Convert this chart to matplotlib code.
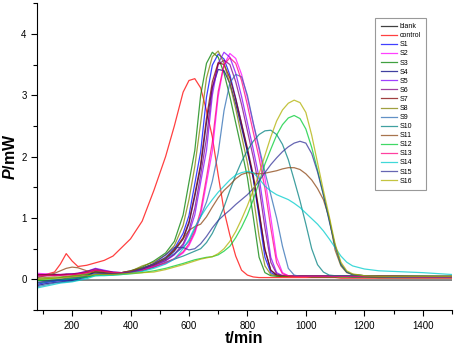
import matplotlib
matplotlib.use("Agg")
import matplotlib.pyplot as plt
from matplotlib.ticker import MultipleLocator

plt.rcParams['font.family'] = ['Liberation Sans', 'DejaVu Sans']
plt.rcParams['mathtext.fontset'] = 'custom'
plt.rcParams['mathtext.it'] = 'Liberation Sans:italic:bold'

# time grid (min)
t_min = [80, 110, 140, 160, 180, 200, 220, 250, 280, 310, 340, 370, 400,
         440, 480, 520, 550, 580, 600, 620, 640, 660, 680, 700, 720, 740,
         760, 780, 800, 820, 840, 860, 880, 900, 920, 940, 960,
         980, 1000, 1020, 1040, 1060, 1080, 1100, 1120, 1140, 1160, 1200,
         1250, 1300, 1400, 1500]

# heat flow P (mW) of every sample on that grid
blank = [-0.02, -0.02, -0.02, -0.01, -0.01, -0.01, -0.01, -0.01, -0.01, -0.01, -0.01, -0.01, -0.01,
         -0.01, -0.01, -0.01, -0.01, -0.01, -0.01, -0.01, -0.01, -0.01, -0.01, -0.01, -0.01, -0.01,
         -0.01, -0.01, -0.01, -0.01, -0.01, -0.01, -0.01, -0.01, -0.01, -0.01, -0.01,
         -0.01, -0.01, -0.01, -0.01, -0.01, -0.01, -0.01, -0.01, -0.01, -0.01, -0.01,
         -0.01, -0.01, -0.01, -0.01]
control = [0.07, 0.08, 0.12, 0.25, 0.42, 0.30, 0.21, 0.23, 0.27, 0.31, 0.38, 0.52, 0.66,
           0.95, 1.45, 2.00, 2.50, 3.05, 3.24, 3.27, 3.12, 2.75, 2.32, 1.70, 1.12, 0.72,
           0.38, 0.15, 0.07, 0.04, 0.03, 0.03, 0.03, 0.03, 0.03, 0.03, 0.03,
           0.03, 0.03, 0.03, 0.03, 0.03, 0.03, 0.03, 0.02, 0.02, 0.02, 0.02,
           0.02, 0.02, 0.02, 0.02]
s1 = [-0.08, -0.05, -0.03, -0.02, -0.01, 0.00, 0.02, 0.06, 0.12, 0.10, 0.09, 0.10, 0.12,
      0.18, 0.25, 0.36, 0.50, 0.75, 1.04, 1.56, 2.08, 2.97, 3.49, 3.67, 3.59, 3.33,
      2.95, 2.53, 2.10, 1.65, 1.01, 0.36, 0.11, 0.06, 0.05, 0.05, 0.05,
      0.05, 0.05, 0.05, 0.05, 0.05, 0.05, 0.05, 0.05, 0.05, 0.04, 0.04,
      0.04, 0.04, 0.04, 0.04]
s2 = [0.10, 0.09, 0.08, 0.08, 0.08, 0.08, 0.09, 0.11, 0.15, 0.13, 0.11, 0.11, 0.12,
      0.15, 0.20, 0.26, 0.33, 0.43, 0.55, 0.75, 1.05, 1.57, 2.09, 2.98, 3.50, 3.68,
      3.60, 3.34, 2.96, 2.54, 2.11, 1.65, 1.01, 0.36, 0.11, 0.06, 0.05,
      0.05, 0.05, 0.05, 0.05, 0.05, 0.05, 0.05, 0.05, 0.05, 0.05, 0.04,
      0.04, 0.04, 0.04, 0.04]
s3 = [0.00, 0.01, 0.02, 0.03, 0.04, 0.05, 0.06, 0.08, 0.12, 0.11, 0.10, 0.11, 0.14,
      0.20, 0.30, 0.43, 0.62, 1.05, 1.58, 2.10, 3.00, 3.52, 3.70, 3.62, 3.36, 2.98,
      2.55, 2.12, 1.66, 1.02, 0.36, 0.11, 0.06, 0.05, 0.05, 0.05, 0.05,
      0.05, 0.05, 0.04, 0.04, 0.04, 0.04, 0.04, 0.04, 0.04, 0.04, 0.04,
      0.03, 0.03, 0.03, 0.03]
s4 = [-0.10, -0.07, -0.05, -0.04, -0.03, -0.02, 0.00, 0.05, 0.13, 0.11, 0.09, 0.10, 0.12,
      0.17, 0.24, 0.33, 0.46, 0.66, 0.91, 1.35, 1.83, 2.55, 3.12, 3.42, 3.40, 3.19,
      2.86, 2.47, 2.08, 1.65, 1.08, 0.48, 0.15, 0.07, 0.05, 0.05, 0.05,
      0.05, 0.05, 0.05, 0.05, 0.05, 0.05, 0.05, 0.05, 0.05, 0.05, 0.05,
      0.05, 0.05, 0.04, 0.04]
s5 = [0.05, 0.06, 0.07, 0.07, 0.08, 0.09, 0.10, 0.13, 0.18, 0.15, 0.12, 0.11, 0.12,
      0.16, 0.22, 0.30, 0.40, 0.55, 0.75, 1.05, 1.58, 2.10, 3.00, 3.52, 3.70, 3.62,
      3.36, 2.98, 2.55, 2.12, 1.66, 1.02, 0.36, 0.11, 0.06, 0.05, 0.05,
      0.05, 0.05, 0.05, 0.05, 0.05, 0.05, 0.05, 0.05, 0.05, 0.05, 0.05,
      0.04, 0.04, 0.04, 0.04]
s6 = [0.08, 0.08, 0.08, 0.08, 0.09, 0.09, 0.10, 0.13, 0.17, 0.14, 0.12, 0.11, 0.12,
      0.17, 0.23, 0.31, 0.41, 0.58, 0.80, 1.16, 1.70, 2.30, 3.12, 3.50, 3.57, 3.50,
      3.22, 2.85, 2.42, 1.99, 1.50, 0.84, 0.28, 0.09, 0.06, 0.05, 0.05,
      0.06, 0.06, 0.06, 0.06, 0.06, 0.06, 0.06, 0.06, 0.06, 0.06, 0.05,
      0.05, 0.05, 0.05, 0.05]
s7 = [0.07, 0.07, 0.07, 0.07, 0.08, 0.08, 0.09, 0.11, 0.15, 0.13, 0.11, 0.11, 0.12,
      0.18, 0.25, 0.34, 0.48, 0.68, 0.94, 1.39, 1.88, 2.63, 3.22, 3.53, 3.50, 3.28,
      2.94, 2.54, 2.14, 1.70, 1.11, 0.49, 0.15, 0.07, 0.05, 0.05, 0.05,
      0.05, 0.05, 0.05, 0.05, 0.05, 0.05, 0.05, 0.05, 0.05, 0.05, 0.05,
      0.05, 0.05, 0.05, 0.05]
s8 = [0.02, 0.03, 0.04, 0.04, 0.05, 0.06, 0.07, 0.09, 0.13, 0.12, 0.11, 0.11, 0.13,
      0.22, 0.28, 0.40, 0.55, 0.88, 1.30, 1.84, 2.55, 3.28, 3.63, 3.72, 3.52, 3.18,
      2.78, 2.34, 1.90, 1.36, 0.70, 0.22, 0.08, 0.06, 0.05, 0.05, 0.05,
      0.05, 0.05, 0.05, 0.05, 0.05, 0.05, 0.05, 0.04, 0.04, 0.04, 0.04,
      0.04, 0.04, 0.04, 0.04]
s9 = [-0.12, -0.09, -0.06, -0.05, -0.04, -0.03, -0.01, 0.03, 0.08, 0.08, 0.08, 0.09, 0.11,
      0.18, 0.25, 0.34, 0.42, 0.52, 0.62, 0.82, 1.02, 1.26, 1.60, 2.06, 2.75, 3.20,
      3.34, 3.30, 3.00, 2.55, 2.15, 1.75, 1.38, 1.00, 0.54, 0.18, 0.07,
      0.05, 0.05, 0.05, 0.05, 0.05, 0.05, 0.05, 0.05, 0.05, 0.05, 0.05,
      0.05, 0.04, 0.04, 0.04]
s10 = [-0.06, -0.04, -0.02, -0.01, 0.00, 0.01, 0.02, 0.04, 0.08, 0.08, 0.08, 0.09, 0.11,
       0.14, 0.20, 0.28, 0.33, 0.38, 0.42, 0.46, 0.50, 0.60, 0.75, 0.95, 1.18, 1.45,
       1.70, 1.92, 2.10, 2.25, 2.36, 2.42, 2.43, 2.36, 2.20, 1.95, 1.62,
       1.28, 0.90, 0.50, 0.24, 0.12, 0.07, 0.06, 0.06, 0.06, 0.06, 0.05,
       0.05, 0.05, 0.05, 0.04]
s11 = [0.03, 0.06, 0.10, 0.14, 0.18, 0.20, 0.19, 0.14, 0.11, 0.10, 0.10, 0.11, 0.14,
       0.18, 0.25, 0.35, 0.48, 0.66, 0.80, 0.86, 0.90, 1.02, 1.18, 1.33, 1.45, 1.54,
       1.64, 1.71, 1.74, 1.73, 1.72, 1.73, 1.75, 1.77, 1.80, 1.82, 1.82,
       1.79, 1.72, 1.62, 1.48, 1.30, 1.00, 0.48, 0.22, 0.11, 0.08, 0.06,
       0.06, 0.06, 0.05, 0.05]
s12 = [-0.02, -0.01, 0.00, 0.00, 0.01, 0.02, 0.03, 0.04, 0.06, 0.07, 0.07, 0.08, 0.09,
       0.11, 0.14, 0.18, 0.22, 0.26, 0.29, 0.32, 0.34, 0.36, 0.37, 0.40, 0.46, 0.54,
       0.68, 0.85, 1.05, 1.30, 1.58, 1.88, 2.12, 2.35, 2.52, 2.63, 2.67,
       2.62, 2.45, 2.15, 1.78, 1.38, 0.97, 0.55, 0.24, 0.12, 0.08, 0.06,
       0.05, 0.05, 0.05, 0.05]
s13 = [0.06, 0.06, 0.06, 0.07, 0.07, 0.08, 0.09, 0.11, 0.15, 0.13, 0.11, 0.11, 0.12,
       0.15, 0.21, 0.27, 0.34, 0.45, 0.58, 0.78, 1.12, 1.66, 2.24, 3.06, 3.50, 3.61,
       3.52, 3.24, 2.84, 2.40, 1.98, 1.48, 0.84, 0.27, 0.09, 0.06, 0.05,
       0.05, 0.05, 0.05, 0.05, 0.05, 0.05, 0.05, 0.05, 0.05, 0.05, 0.05,
       0.05, 0.05, 0.04, 0.04]
s14 = [-0.14, -0.11, -0.08, -0.06, -0.05, -0.04, -0.02, 0.01, 0.06, 0.06, 0.07, 0.08, 0.10,
       0.13, 0.18, 0.25, 0.33, 0.50, 0.65, 0.85, 1.02, 1.17, 1.30, 1.42, 1.52, 1.62,
       1.70, 1.74, 1.76, 1.74, 1.64, 1.52, 1.44, 1.38, 1.34, 1.30, 1.24,
       1.17, 1.08, 0.99, 0.90, 0.79, 0.66, 0.52, 0.38, 0.28, 0.22, 0.17,
       0.14, 0.13, 0.11, 0.08]
s15 = [-0.05, -0.03, -0.01, 0.00, 0.02, 0.03, 0.04, 0.06, 0.10, 0.09, 0.09, 0.10, 0.12,
       0.17, 0.26, 0.40, 0.52, 0.52, 0.48, 0.50, 0.58, 0.70, 0.84, 0.96, 1.05, 1.13,
       1.22, 1.30, 1.38, 1.48, 1.60, 1.74, 1.87, 1.98, 2.08, 2.16, 2.22,
       2.25, 2.22, 2.05, 1.75, 1.38, 0.95, 0.55, 0.25, 0.12, 0.08, 0.06,
       0.05, 0.05, 0.05, 0.05]
s16 = [0.00, 0.01, 0.02, 0.02, 0.03, 0.04, 0.05, 0.06, 0.08, 0.08, 0.08, 0.09, 0.10,
       0.11, 0.12, 0.16, 0.20, 0.24, 0.27, 0.30, 0.33, 0.35, 0.37, 0.42, 0.50, 0.62,
       0.78, 0.98, 1.20, 1.45, 1.72, 2.02, 2.32, 2.58, 2.76, 2.87, 2.92,
       2.88, 2.72, 2.35, 1.90, 1.45, 1.03, 0.58, 0.28, 0.14, 0.09, 0.06,
       0.05, 0.05, 0.05, 0.05]

labels = ["blank", "control", "S1", "S2", "S3", "S4", "S5", "S6", "S7", "S8",
          "S9", "S10", "S11", "S12", "S13", "S14", "S15", "S16"]
colors = ["#000000", "#FF0000", "#0000FF", "#FF00FF", "#008000", "#000080",
          "#8000FF", "#800080", "#800000", "#808000", "#2E6DB4", "#008080",
          "#8B4513", "#00CC33", "#FF0080", "#00CCCC", "#333399", "#B0B000"]
series = [blank, control, s1, s2, s3, s4, s5, s6, s7, s8,
          s9, s10, s11, s12, s13, s14, s15, s16]

fig = plt.figure(figsize=(4.54, 3.5), dpi=100)
ax = fig.add_axes([0.0815, 0.114, 0.914, 0.877])

for y, c, lab in zip(series, colors, labels):
    ax.plot(t_min, y, color=c, lw=0.9, alpha=0.75, label=lab)

ax.set_xlim(80, 1500)
ax.set_ylim(-0.5, 4.5)
ax.xaxis.set_major_locator(MultipleLocator(200))
ax.xaxis.set_minor_locator(MultipleLocator(100))
ax.yaxis.set_major_locator(MultipleLocator(1))
ax.yaxis.set_minor_locator(MultipleLocator(0.5))
ax.tick_params(which='major', direction='out', length=4, width=0.8, labelsize=7)
ax.tick_params(which='minor', direction='out', length=3, width=0.8)
ax.spines['top'].set_visible(False)
ax.spines['right'].set_visible(False)

ax.set_xlabel("t/min", fontsize=11.5, fontweight='bold', labelpad=0)
ax.set_ylabel(r"$P$/mW", fontsize=11.5, fontweight='bold', labelpad=2)

leg = ax.legend(loc='upper left', bbox_to_anchor=(0.807, 0.964), fontsize=5,
                handlelength=2.3, handletextpad=0.4, labelspacing=0.3,
                fancybox=False, edgecolor='#808080', borderpad=0.8)
leg.get_frame().set_linewidth(0.8)

fig.savefig("out.png", dpi=100)
